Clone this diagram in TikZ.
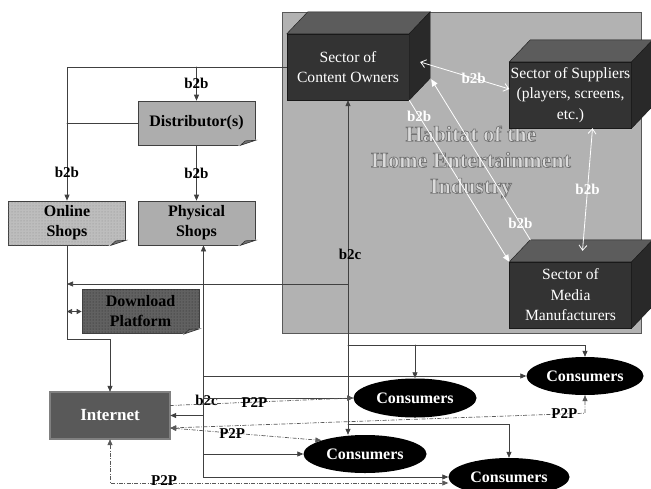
\documentclass[tikz,border=0pt]{standalone}
\usepackage{fontspec}
\setmainfont{Liberation Serif}
\usetikzlibrary{arrows.meta,shapes.geometric,patterns}

% folded corner of a document box
\newcommand\dogear[1]{%
  \filldraw[fill=white,draw=white,line width=1pt] ([xshift=-15pt]#1.south east) -- ([xshift=1pt,yshift=-1pt]#1.south east) -- ([yshift=5pt]#1.south east) -- cycle;
  \filldraw[fill=black!55,draw=black!80,line width=0.6pt] ([xshift=-15pt]#1.south east) -- ([yshift=5pt]#1.south east) -- ([xshift=-10pt,yshift=4.5pt]#1.south east) -- cycle;}
% top and side of a sector box
\newcommand\cubefaces[1]{%
  \filldraw[fill=black!64,draw=black!90] (#1.north west) -- ++(21,-22) -- ([shift={(21,-22)}]#1.north east) -- (#1.north east) -- cycle;
  \filldraw[fill=black!84,draw=black!90] (#1.north east) -- ++(21,-22) -- ([shift={(21,-22)}]#1.south east) -- (#1.south east) -- cycle;}
% outlined letters
\newcommand\outlined{\special{pdf:literal direct 2 Tr 0.7 w 0.45 0.45 0.45 RG}}
\newcommand\plain{\special{pdf:literal direct 0 Tr}}

\begin{document}
\begin{tikzpicture}[x=1pt,y=-1pt,>={Triangle[length=6pt,width=5pt]},line cap=round,
  link/.style={black!75,line width=0.7pt},
  p2p/.style={black!65,line width=0.7pt,line cap=butt,dash pattern=on 4pt off 1.5pt on 0.8pt off 1.5pt},
  wlink/.style={white,line width=0.8pt},
  lbl/.style={font=\fontsize{15}{15}\selectfont\bfseries,inner sep=0pt,text=black},
  wlbl/.style={lbl,text=white},
  doc/.style={draw=black!75,line width=0.7pt,minimum width=117pt,minimum height=44pt,inner sep=0pt,align=center,font=\fontsize{16}{20}\selectfont\bfseries},
  cube/.style={fill=black!80,draw=black!90,minimum width=122pt,minimum height=66pt,inner sep=0pt,align=center,text=white,font=\fontsize{15.6}{20.5}\selectfont},
  consumer/.style={ellipse,fill=black,inner sep=0pt,text=white,font=\fontsize{16}{16}\selectfont\bfseries},
  habitat/.style={font=\fontsize{22}{26}\selectfont\bfseries,align=center}]
\useasboundingbox (0,0) rectangle (651,488);

% the industry
\filldraw[fill=black!30,draw=black!65,line width=0.8pt] (282,12) rectangle (641,333);
\node[habitat,text=black!14] (hab) at (471,162) {\outlined Habitat of the\\\outlined Home Entertainment\\\outlined Industry\plain};

\node[cube] (owners) at (348,67) {Sector of\\Content Owners};
\cubefaces{owners}
\node[cube] (suppliers) at (570.5,95) {Sector of Suppliers\\(players, screens,\\etc.)};
\cubefaces{suppliers}
\node[cube] (media) at (570.5,295) {Sector of\\Media\\Manufacturers};
\cubefaces{media}

% trade
\node[doc,fill=black!32] (dist) at (196.5,123) {Distributor(s)};
\dogear{dist}
\node[doc,fill=black!26,postaction={pattern=dots,pattern color=black!45}] (online) at (67,223) {Online\\Shops};
\dogear{online}
\node[doc,fill=black!32] (phys) at (196.5,223) {Physical\\Shops};
\dogear{phys}
\node[doc,fill=black!62,postaction={pattern=dots,pattern color=black!85}] (dl) at (140.5,311.5) {Download\\Platform};
\dogear{dl}
\node[draw=black!85,double=black!50,double distance=1.6pt,fill=black!65,minimum width=120pt,minimum height=47pt,inner sep=0pt,text=white,font=\fontsize{17}{17}\selectfont\bfseries] (net) at (110,415.5) {Internet};

\node[consumer,minimum width=117pt,minimum height=38pt] (c1) at (585,376) {Consumers};
\node[consumer,minimum width=123pt,minimum height=39pt] (c2) at (415,398) {Consumers};
\node[consumer,minimum width=123pt,minimum height=38pt] (c3) at (365,454) {Consumers};
\node[consumer,minimum width=121pt,minimum height=38pt] (c4) at (509,477) {Consumers};

% b2b inside the habitat
\draw[wlink,{Straight Barb[length=5pt,width=8pt]}-{Straight Barb[length=5pt,width=8pt]}] ([shift={(11,-5)}]owners.east) -- node[wlbl,pos=0.6]{b2b} ([yshift=6pt]suppliers.west);
\draw[wlink,-{Triangle[length=7pt,width=6pt]}] (owners.south east) -- node[wlbl,pos=0.1]{b2b} (media.north west);
\draw[wlink,-{Triangle[length=7pt,width=6pt]}] ([shift={(21,-22)}]media.north west) -- node[wlbl,pos=0.1]{b2b} ([shift={(22,-21)}]owners.south east);
\draw[wlink,{Straight Barb[length=5pt,width=8pt]}-{Straight Barb[length=5pt,width=8pt]}] ([xshift=22pt]suppliers.south) -- node[wlbl]{b2b} ([shift={(12,-11)}]media.north);

% b2b to the shops
\draw[link] (owners.west) -| (dist.west -| online.north);
\draw[link,->] (owners.west -| dist.north) -- node[lbl]{b2b} (dist.north);
\draw[link] (dist.west) -- (dist.west -| online.north);
\draw[link,->] (dist.west -| online.north) -- node[lbl,pos=0.63]{b2b} (online.north);
\draw[link,->] (dist.south) -- node[lbl]{b2b} (phys.north);
\draw[link,->] (online.south) -- ++(0,94) -| (net.north);
\coordinate (tap) at (348,284);
\draw[link,->] (tap) -- (tap -| online.south);
\draw[link,{Triangle[length=5pt,width=5pt]}-{Triangle[length=5pt,width=5pt]}] (dl.west -| online.south) -- (dl.west);

% b2c
\draw[link,<->] (owners.south) -- node[lbl,pos=0.46,xshift=2pt]{b2c} (owners.south |- c3.north);
\coordinate (hub) at (348,345);
\draw[link,->] (hub) -| (c1.north);
\draw[link,->] (hub -| c2.north) -- (c2.north);
\coordinate (fork) at (348,424);
\draw[link,->] (fork) -| (c4.north);
\coordinate (sp) at ([xshift=7pt]phys.south);
\draw[link,<->] (sp) |- node[lbl,pos=0.334,xshift=3pt]{b2c} (c4.west);
\draw[link,->] (sp |- c1.west) -- (c1.west);
\draw[link,->] (sp |- c2.west) -- (c2.west);
\draw[link,->] (sp |- net.east) -- (net.east);
\draw[link,->] (sp |- c3.west) -- (c3.west);

% P2P
\draw[p2p,->] ([yshift=10pt]net.east) -- node[lbl,pos=0.46]{P2P} (c2.west);
\draw[p2p,<->] (c1.south) -- ++(0,18) -- node[lbl,pos=0.05]{P2P} ([yshift=-12.5pt]net.east);
\draw[p2p,<->] ([yshift=-12.5pt]net.east) -- node[lbl,pos=0.41]{P2P} (c3.north west);
\draw[p2p,<->] (net.south) |- node[lbl,pos=0.58,yshift=2.5pt]{P2P} ([yshift=-6pt]c4.west);
\end{tikzpicture}
\end{document}
